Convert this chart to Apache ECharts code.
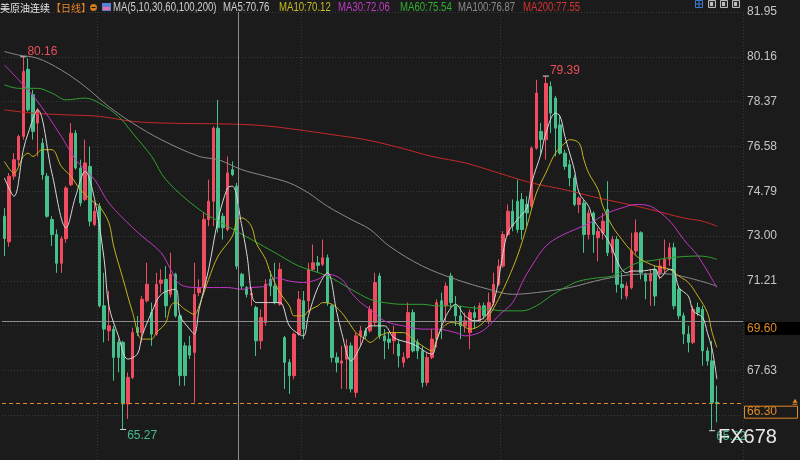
<!DOCTYPE html>
<html><head><meta charset="utf-8">
<script src="https://cdn.jsdelivr.net/npm/echarts/dist/echarts.min.js"></script>
<style>html,body{margin:0;padding:0;background:#1b1b1b;}#c{width:800px;height:460px;}</style>
</head><body><div id="c"></div>
<script>
// ---- data ----
const slotCount = 156; // 151 trading days + empty space on the right
const categories = Array.from({length: slotCount}, (_, i) => 'D' + (i + 1));
// [open, close, low, high]
const candles = [
[73.79,72.90,72.20,74.12],[72.77,75.39,72.57,75.52],[75.39,76.05,75.25,76.31],[76.05,76.98,75.78,77.05],[76.98,79.57,76.85,80.16],
[79.66,78.04,77.97,80.10],[78.64,77.18,76.85,78.84],[77.51,78.04,76.18,78.11],[76.71,75.45,75.25,76.91],[75.39,73.79,73.73,75.52],
[73.66,73.06,72.60,73.79],[73.06,71.91,71.53,73.26],[71.91,72.89,71.53,72.99],[72.89,74.92,72.73,74.99],[75.05,77.11,74.99,77.51],
[77.11,75.72,75.65,77.24],[75.72,74.32,74.19,76.05],[74.46,75.92,74.39,76.85],[75.78,73.59,73.39,76.58],[73.46,73.99,73.39,74.32],
[74.19,70.21,70.14,74.32],[70.21,69.28,68.75,71.53],[69.21,69.41,68.81,70.80],[69.28,68.15,67.22,69.41],[68.75,68.15,67.55,68.88],
[68.75,66.29,65.27,68.81],[66.29,67.35,65.69,67.55],[67.35,69.14,67.28,69.34],[69.34,69.14,69.01,69.81],[69.14,70.47,68.75,70.60],
[70.41,71.07,70.34,71.93],[69.94,69.08,68.61,70.34],[69.08,71.07,69.01,71.53],[71.11,71.24,70.74,71.67],[71.27,70.21,69.74,71.80],
[70.67,71.47,70.54,72.33],[71.47,69.81,69.74,71.53],[69.81,67.42,67.02,69.87],[68.61,67.42,67.02,68.75],[68.61,68.24,68.08,69.01],
[68.35,70.67,66.35,71.93],[70.74,70.94,70.60,71.27],[70.94,73.66,70.74,73.92],[73.66,74.39,73.39,75.25],[74.39,77.31,73.39,77.38],
[77.31,73.33,73.13,78.44],[73.79,73.33,72.86,73.92],[73.26,75.52,73.19,76.18],[75.65,75.45,75.39,75.98],[74.99,71.80,71.67,75.12],
[71.47,71.00,70.87,71.53],[70.94,70.67,70.54,71.00],[70.64,70.70,70.21,70.94],[70.14,68.81,68.21,70.21],[68.81,69.74,68.48,70.07],
[69.54,71.07,69.41,71.27],[71.27,71.00,70.60,71.60],[71.00,70.34,70.27,71.93],[70.27,71.67,70.21,71.93],[68.94,67.95,66.89,69.01],
[67.95,67.42,66.69,68.08],[67.42,69.08,67.28,69.14],[69.08,70.47,69.01,70.80],[70.41,69.28,68.88,70.80],[70.41,71.67,69.94,71.93],
[71.67,71.93,71.60,72.66],[71.93,71.83,71.53,72.20],[71.87,72.13,71.80,72.86],[72.13,70.34,70.21,72.26],[70.21,68.15,67.95,70.27],
[68.15,67.95,67.55,68.35],[67.92,68.01,66.89,68.61],[68.08,68.61,66.89,68.88],[68.61,66.89,66.75,68.75],[66.75,69.01,66.55,69.14],
[69.01,69.21,68.61,69.41],[69.21,69.01,68.88,69.34],[69.21,70.07,69.14,70.21],[69.54,71.14,69.41,71.53],[71.40,69.01,68.88,71.53],
[69.01,68.81,68.08,69.28],[68.88,68.75,68.48,69.14],[68.81,69.14,68.28,69.41],[68.68,68.21,67.75,68.88],[67.95,68.15,67.75,68.35],
[68.15,69.94,68.08,70.34],[69.94,68.41,68.35,70.07],[68.75,68.41,68.08,68.88],[68.41,67.15,66.95,68.61],[67.15,68.15,67.02,68.35],
[68.15,68.88,68.08,69.28],[68.88,70.34,68.55,70.47],[70.41,69.61,68.88,70.74],[70.21,71.00,69.54,71.14],[71.40,70.34,70.14,71.53],
[70.21,69.81,69.41,70.60],[69.81,69.41,68.88,70.21],[69.41,69.61,69.14,69.94],[69.14,69.94,68.48,70.07],[69.94,69.74,69.28,70.21],
[69.61,70.21,69.54,70.34],[70.21,69.81,69.67,70.34],[69.61,70.34,69.48,70.74],[70.34,71.07,70.21,71.53],[71.07,71.80,71.00,72.07],
[71.80,73.06,71.73,73.19],[73.06,73.99,72.99,74.26],[73.99,73.39,73.19,74.46],[74.39,73.26,73.13,75.25],[74.46,73.26,72.86,74.72],
[74.26,73.92,73.39,74.59],[74.19,76.51,74.06,76.58],[76.51,78.71,76.45,79.24],[77.18,76.85,76.25,77.51],[76.85,79.10,76.05,79.39],
[78.97,77.91,77.11,79.17],[78.51,77.31,76.18,78.60],[77.44,76.31,76.25,77.84],[76.31,75.78,75.65,76.45],[75.85,75.32,74.99,76.05],
[75.32,74.26,74.19,75.45],[74.26,74.52,73.92,74.59],[74.32,73.06,72.33,74.46],[73.06,73.92,72.86,74.06],[73.92,73.06,72.33,73.99],
[72.93,73.19,71.99,73.33],[73.13,73.59,72.86,73.92],[74.06,72.33,72.20,75.19],[72.33,72.86,71.53,72.99],[72.86,71.07,70.74,72.99],
[71.07,70.94,70.47,71.53],[70.60,71.00,70.47,71.14],[70.94,72.40,70.87,73.13],[72.40,73.13,72.26,73.66],[73.13,71.53,71.27,73.19],
[71.47,71.20,70.47,71.53],[71.20,71.47,70.21,71.67],[71.67,70.60,70.21,71.80],[71.53,71.80,71.27,72.07],[71.67,72.07,71.53,72.86],
[72.07,72.53,71.80,72.73],[72.53,70.21,70.07,72.73],[70.87,69.81,69.67,71.00],[69.81,69.08,68.68,69.94],[69.08,68.75,68.35,69.41],
[68.75,70.07,68.68,70.21],[70.14,69.94,69.81,70.34],[70.07,68.41,67.82,70.21],[68.41,68.01,67.82,68.55],[68.01,66.35,65.22,68.80],
[66.35,66.30,65.56,67.02]
];
// moving averages, read as [dayIndex, value]
const ma5 = [[0,75.32],[2,74.59],[4,76.45],[5,77.11],[7,78.04],[10,75.52],[13,73.33],[15,74.59],[17,75.58],[19,74.46],[21,72.07],[22,70.21],[24,69.01],[26,68.08],[28,68.28],[29,69.01],[31,69.94],[33,70.67],[36,70.87],[37,69.81],[39,69.28],[40,69.08],[41,70.07],[43,71.67],[45,73.66],[47,74.92],[48,74.99],[50,73.39],[51,72.33],[53,70.34],[56,70.34],[58,70.34],[60,69.41],[62,69.08],[63,69.01],[64,69.81],[66,70.94],[68,71.53],[70,69.94],[71,69.14],[73,68.01],[75,68.61],[77,69.41],[80,69.41],[82,68.94],[86,68.68],[90,68.28],[91,68.81],[93,69.81],[95,70.27],[97,69.81],[99,69.61],[101,69.74],[103,70.34],[105,72.33],[106,73.13],[108,73.66],[110,74.12],[111,75.12],[113,76.31],[114,77.11],[116,77.91],[117,77.78],[118,76.98],[120,75.65],[121,74.72],[123,74.19],[124,73.66],[127,72.86],[131,71.53],[132,71.60],[134,71.60],[137,71.67],[138,71.33],[140,71.67],[141,71.60],[142,70.94],[144,70.60],[145,70.01],[147,69.74],[148,69.14],[149,68.48],[150,67.28]];
const ma10 = [[0,75.98],[2,75.52],[4,76.18],[5,76.31],[6,76.18],[8,76.45],[10,76.45],[12,75.78],[14,75.39],[16,74.85],[19,74.32],[20,74.19],[22,73.53],[23,72.60],[25,71.27],[27,69.94],[29,68.88],[31,68.88],[32,69.14],[34,69.54],[35,70.21],[36,70.34],[38,70.07],[40,69.87],[41,70.21],[43,71.27],[45,72.20],[48,72.99],[49,73.66],[50,73.72],[52,73.39],[53,72.73],[55,72.07],[56,71.53],[58,70.74],[60,70.21],[61,69.81],[63,69.81],[64,70.01],[66,70.21],[67,70.34],[69,70.27],[71,69.94],[73,69.41],[74,69.14],[76,68.88],[77,68.75],[79,69.01],[81,69.14],[84,69.14],[86,68.88],[88,68.61],[90,68.41],[91,68.88],[92,69.28],[94,69.54],[96,69.48],[98,69.28],[100,69.41],[102,69.81],[104,70.47],[106,71.27],[108,72.20],[110,73.39],[112,74.72],[114,75.52],[116,76.31],[118,76.71],[119,76.85],[121,76.71],[122,76.05],[123,75.52],[125,74.85],[126,74.19],[128,73.39],[130,72.86],[132,72.40],[134,72.07],[137,71.80],[140,71.67],[142,71.40],[144,71.14],[146,70.60],[148,69.94],[149,69.14],[150,68.55]];
const ma30 = [[0,79.83],[3,79.24],[7,78.37],[12,76.98],[15,76.05],[19,75.25],[22,74.32],[27,73.33],[29,72.99],[33,72.33],[35,71.67],[37,71.07],[41,70.94],[44,70.94],[47,70.94],[50,70.87],[52,70.94],[55,71.00],[57,71.33],[60,71.20],[63,71.14],[66,71.27],[68,71.47],[71,71.27],[73,70.74],[75,70.34],[77,70.07],[80,69.61],[84,69.41],[88,69.28],[91,69.28],[95,69.14],[97,69.01],[100,69.14],[102,69.41],[104,69.81],[107,70.34],[109,71.14],[111,71.80],[114,72.60],[117,72.99],[121,73.33],[124,73.59],[127,73.92],[130,74.12],[133,74.26],[136,74.19],[139,73.79],[141,73.39],[143,72.86],[146,72.20],[150,70.94]];
const ma60 = [[0,79.04],[3,78.90],[7,78.90],[10,78.71],[13,78.44],[17,78.51],[20,78.31],[24,77.78],[27,77.11],[31,76.18],[34,75.25],[41,74.06],[47,73.39],[52,72.86],[57,72.33],[62,71.80],[68,71.40],[73,70.87],[77,70.47],[80,70.34],[84,70.27],[88,70.27],[91,70.21],[95,70.21],[98,70.14],[102,70.07],[105,70.01],[109,70.01],[112,70.21],[115,70.60],[118,70.94],[121,71.20],[125,71.33],[128,71.40],[130,71.60],[133,71.91],[137,72.04],[140,72.13],[146,72.20],[148,72.17],[150,72.07]];
const ma100 = [[0,80.37],[3,80.23],[7,80.10],[12,79.63],[17,78.97],[22,78.17],[27,77.51],[33,76.85],[41,76.18],[45,76.05],[50,75.65],[55,75.39],[60,75.12],[64,74.72],[68,74.19],[73,73.66],[77,73.26],[81,72.60],[88,71.80],[95,71.27],[102,70.87],[107,70.67],[112,70.74],[119,70.94],[126,71.27],[133,71.47],[139,71.49],[144,71.33],[150,71.00]];
const ma200 = [[0,78.04],[6,77.91],[13,77.84],[20,77.78],[27,77.58],[34,77.51],[48,77.47],[55,77.40],[62,77.24],[69,77.05],[76,76.85],[83,76.54],[90,76.18],[97,75.92],[104,75.52],[111,75.12],[118,74.85],[125,74.52],[130,74.32],[136,74.06],[143,73.72],[147,73.59],[150,73.39]];
// labelled extremes: [dayIndex, price, kind]
const extremes = [[4,80.16,'high'],[25,65.27,'low'],[114,79.39,'high'],[149,65.22,'low']];
const crossPrice = 69.60;
const lastPrice = 66.30;
const crossDay = [49, 50];           // crosshair sits between these two days
const monthLineTicks = [20, 63, 105];
const yMin = 64.05, yMax = 81.95, yStep = 1.79;
const hiddenTicks = [64.05, 65.84, 69.42];
const titleText = '美原油连续';
const periodText = '【日线】';
const legendItems = [
  ['MA(5,10,30,60,100,200)', '#cfcfcf', 113],
  ['MA5:70.76', '#cfcfcf', 223],
  ['MA10:70.12', '#c8bd22', 279],
  ['MA30:72.06', '#c23cc6', 338],
  ['MA60:75.54', '#32ae32', 400],
  ['MA100:76.87', '#8c8c8c', 458],
  ['MA200:77.55', '#d63232', 523]
];
const watermark = 'FX678';

// ---- chart ----
const FONT = '"Liberation Sans", Arial, sans-serif';
const NARROW = 0.8; // the reference uses a condensed UI face
const UP = '#ef4d5f', DOWN = '#45c08c';
const chart = echarts.init(document.getElementById('c'), null, {renderer: 'canvas'});

function maSeries(name, data, color) {
  return {name, type: 'line', data, smooth: 0.35, showSymbol: false, silent: true, z: 5,
    lineStyle: {color, width: 1}, itemStyle: {color}};
}

const option = {
  backgroundColor: '#1b1b1b',
  animation: false,
  grid: {left: 2, top: 12, width: 741, height: 449},
  xAxis: {type: 'category', data: categories, boundaryGap: true,
    axisLine: {show: false}, axisTick: {show: false}, axisLabel: {show: false},
    splitLine: {show: true, interval: (i) => monthLineTicks.includes(i),
      lineStyle: {color: '#3a3a3a', type: [1, 2], width: 1}}},
  yAxis: {type: 'value', position: 'right', min: yMin, max: yMax, interval: yStep,
    axisLine: {show: false}, axisTick: {show: false},
    axisLabel: {margin: 4, color: '#c6c6c6', fontSize: 12, fontFamily: FONT,
      formatter: (v) => hiddenTicks.some(h => Math.abs(h - v) < 0.005) ? '' : v.toFixed(2)},
    splitLine: {show: true, lineStyle: {color: '#3a3a3a', type: [1, 2], width: 1}}},
  series: [
    {type: 'candlestick', data: candles, barWidth: 3, silent: true, z: 3,
      itemStyle: {color: UP, color0: DOWN, borderColor: UP, borderColor0: DOWN, borderWidth: 1},
      markLine: {silent: true, symbol: ['none', 'none'], animation: false,
        data: [
          {yAxis: crossPrice, lineStyle: {color: '#8d8d8d', type: 'solid', width: 1}, label: {show: false}},
          {yAxis: lastPrice, lineStyle: {color: '#e08a24', type: [4, 3], width: 1}, label: {show: false}}
        ]},
      markPoint: {silent: true, symbol: 'rect', symbolSize: [6, 1], animation: false,
        itemStyle: {color: '#dcdcdc'},
        label: {show: true, fontSize: 12, fontFamily: FONT, position: 'right', distance: 1},
        data: extremes.map(e => ({coord: [e[0], e[1]], value: e[1].toFixed(2),
          label: {color: e[2] === 'high' ? '#e8515b' : '#45bd88', offset: e[2] === 'high' ? [0, -5] : [0, 6]}}))}
    },
    maSeries('MA200', ma200, '#c62828'),
    maSeries('MA100', ma100, '#8a8a8a'),
    maSeries('MA60', ma60, '#2fa22f'),
    maSeries('MA30', ma30, '#c236c4'),
    maSeries('MA10', ma10, '#c3b31c'),
    maSeries('MA5', ma5, '#d6d6d6')
  ]
};
chart.setOption(option);

// overlay: crosshair, price boxes, header, watermark
const xa = chart.convertToPixel({xAxisIndex: 0}, crossDay[0]);
const xb = chart.convertToPixel({xAxisIndex: 0}, crossDay[1]);
const xCross = Math.floor((xa + xb) / 2) - 0.5;
const yCross = chart.convertToPixel({yAxisIndex: 0}, crossPrice);
const yLast = chart.convertToPixel({yAxisIndex: 0}, lastPrice);
const g = [];
g.push({type: 'line', silent: true, z: 50, shape: {x1: xCross, y1: 12, x2: xCross, y2: 460},
  style: {stroke: '#8d8d8d', lineWidth: 1}});
// crosshair price box
g.push({type: 'rect', silent: true, z: 60, shape: {x: 745, y: yCross + 1, width: 55, height: 13}, style: {fill: '#000'}});
g.push({type: 'text', silent: true, z: 61, x: 747, y: yCross + 8,
  style: {text: crossPrice.toFixed(2), fill: '#e08a24', font: '12px ' + FONT, textVerticalAlign: 'middle'}});
// last price box
g.push({type: 'rect', silent: true, z: 60, shape: {x: 744.5, y: yLast + 2.5, width: 53, height: 12},
  style: {fill: '#1b1b1b', stroke: '#e08a24', lineWidth: 1}});
g.push({type: 'text', silent: true, z: 61, x: 747, y: yLast + 8.5,
  style: {text: lastPrice.toFixed(2), fill: '#e08a24', font: '12px ' + FONT, textVerticalAlign: 'middle'}});
g.push({type: 'polygon', silent: true, z: 61, shape: {points: [[792.5, yLast - 1], [795, yLast - 5], [797.5, yLast - 1]]}, style: {fill: '#e08a24'}});
g.push({type: 'rect', silent: true, z: 61, shape: {x: 792.5, y: yLast, width: 5, height: 1}, style: {fill: '#e08a24'}});
// header
g.push({type: 'text', silent: true, z: 70, x: 0, y: 8,
  style: {text: titleText, fill: '#e4e4e4', font: '10px "Noto Sans CJK SC"', textVerticalAlign: 'middle'}});
g.push({type: 'text', silent: true, z: 70, x: 51, y: 8,
  style: {text: periodText, fill: '#e8862a', font: '10px "Noto Sans CJK SC"', textVerticalAlign: 'middle'}});
g.push({type: 'circle', silent: true, z: 70, shape: {cx: 93.5, cy: 7.5, r: 3.5}, style: {fill: '#d07a20'}});
g.push({type: 'rect', silent: true, z: 71, shape: {x: 91.5, y: 7, width: 4, height: 1}, style: {fill: '#1b1b1b'}});
g.push({type: 'rect', silent: true, z: 70, shape: {x: 102, y: 3, width: 9, height: 8}, style: {fill: '#5b7fd6'}});
g.push({type: 'rect', silent: true, z: 71, shape: {x: 103, y: 7, width: 7, height: 3}, style: {fill: '#e070a0'}});
legendItems.forEach(([t, c, x]) => g.push({type: 'text', silent: true, z: 70, x, y: 8, scaleX: NARROW,
  style: {text: t, fill: c, font: '12px ' + FONT, textVerticalAlign: 'middle'}}));
// toolbar icons (top right)
g.push({type: 'rect', silent: true, z: 70, shape: {x: 695.5, y: 0.5, width: 7, height: 7}, style: {fill: 'none', stroke: '#3b78d0', lineWidth: 1}});
g.push({type: 'line', silent: true, z: 70, shape: {x1: 699, y1: 1, x2: 699, y2: 7}, style: {stroke: '#3b78d0'}});
g.push({type: 'line', silent: true, z: 70, shape: {x1: 696, y1: 4, x2: 702, y2: 4}, style: {stroke: '#3b78d0'}});
[708, 720, 732].forEach(x => {
  g.push({type: 'rect', silent: true, z: 70, shape: {x: x + 0.5, y: 0.5, width: 7, height: 7}, style: {fill: '#2a2a2a', stroke: '#bdbdbd', lineWidth: 1}});
  g.push({type: 'rect', silent: true, z: 71, shape: {x: x + 2, y: 2, width: 3, height: 4}, style: {fill: '#bdbdbd'}});
});
// watermark
g.push({type: 'text', silent: true, z: 80, x: 718, y: 437,
  style: {text: watermark, fill: '#e8e8e8', font: '20px "Liberation Sans", Arial, sans-serif', textVerticalAlign: 'middle'}});
chart.setOption({graphic: g});
</script></body></html>
